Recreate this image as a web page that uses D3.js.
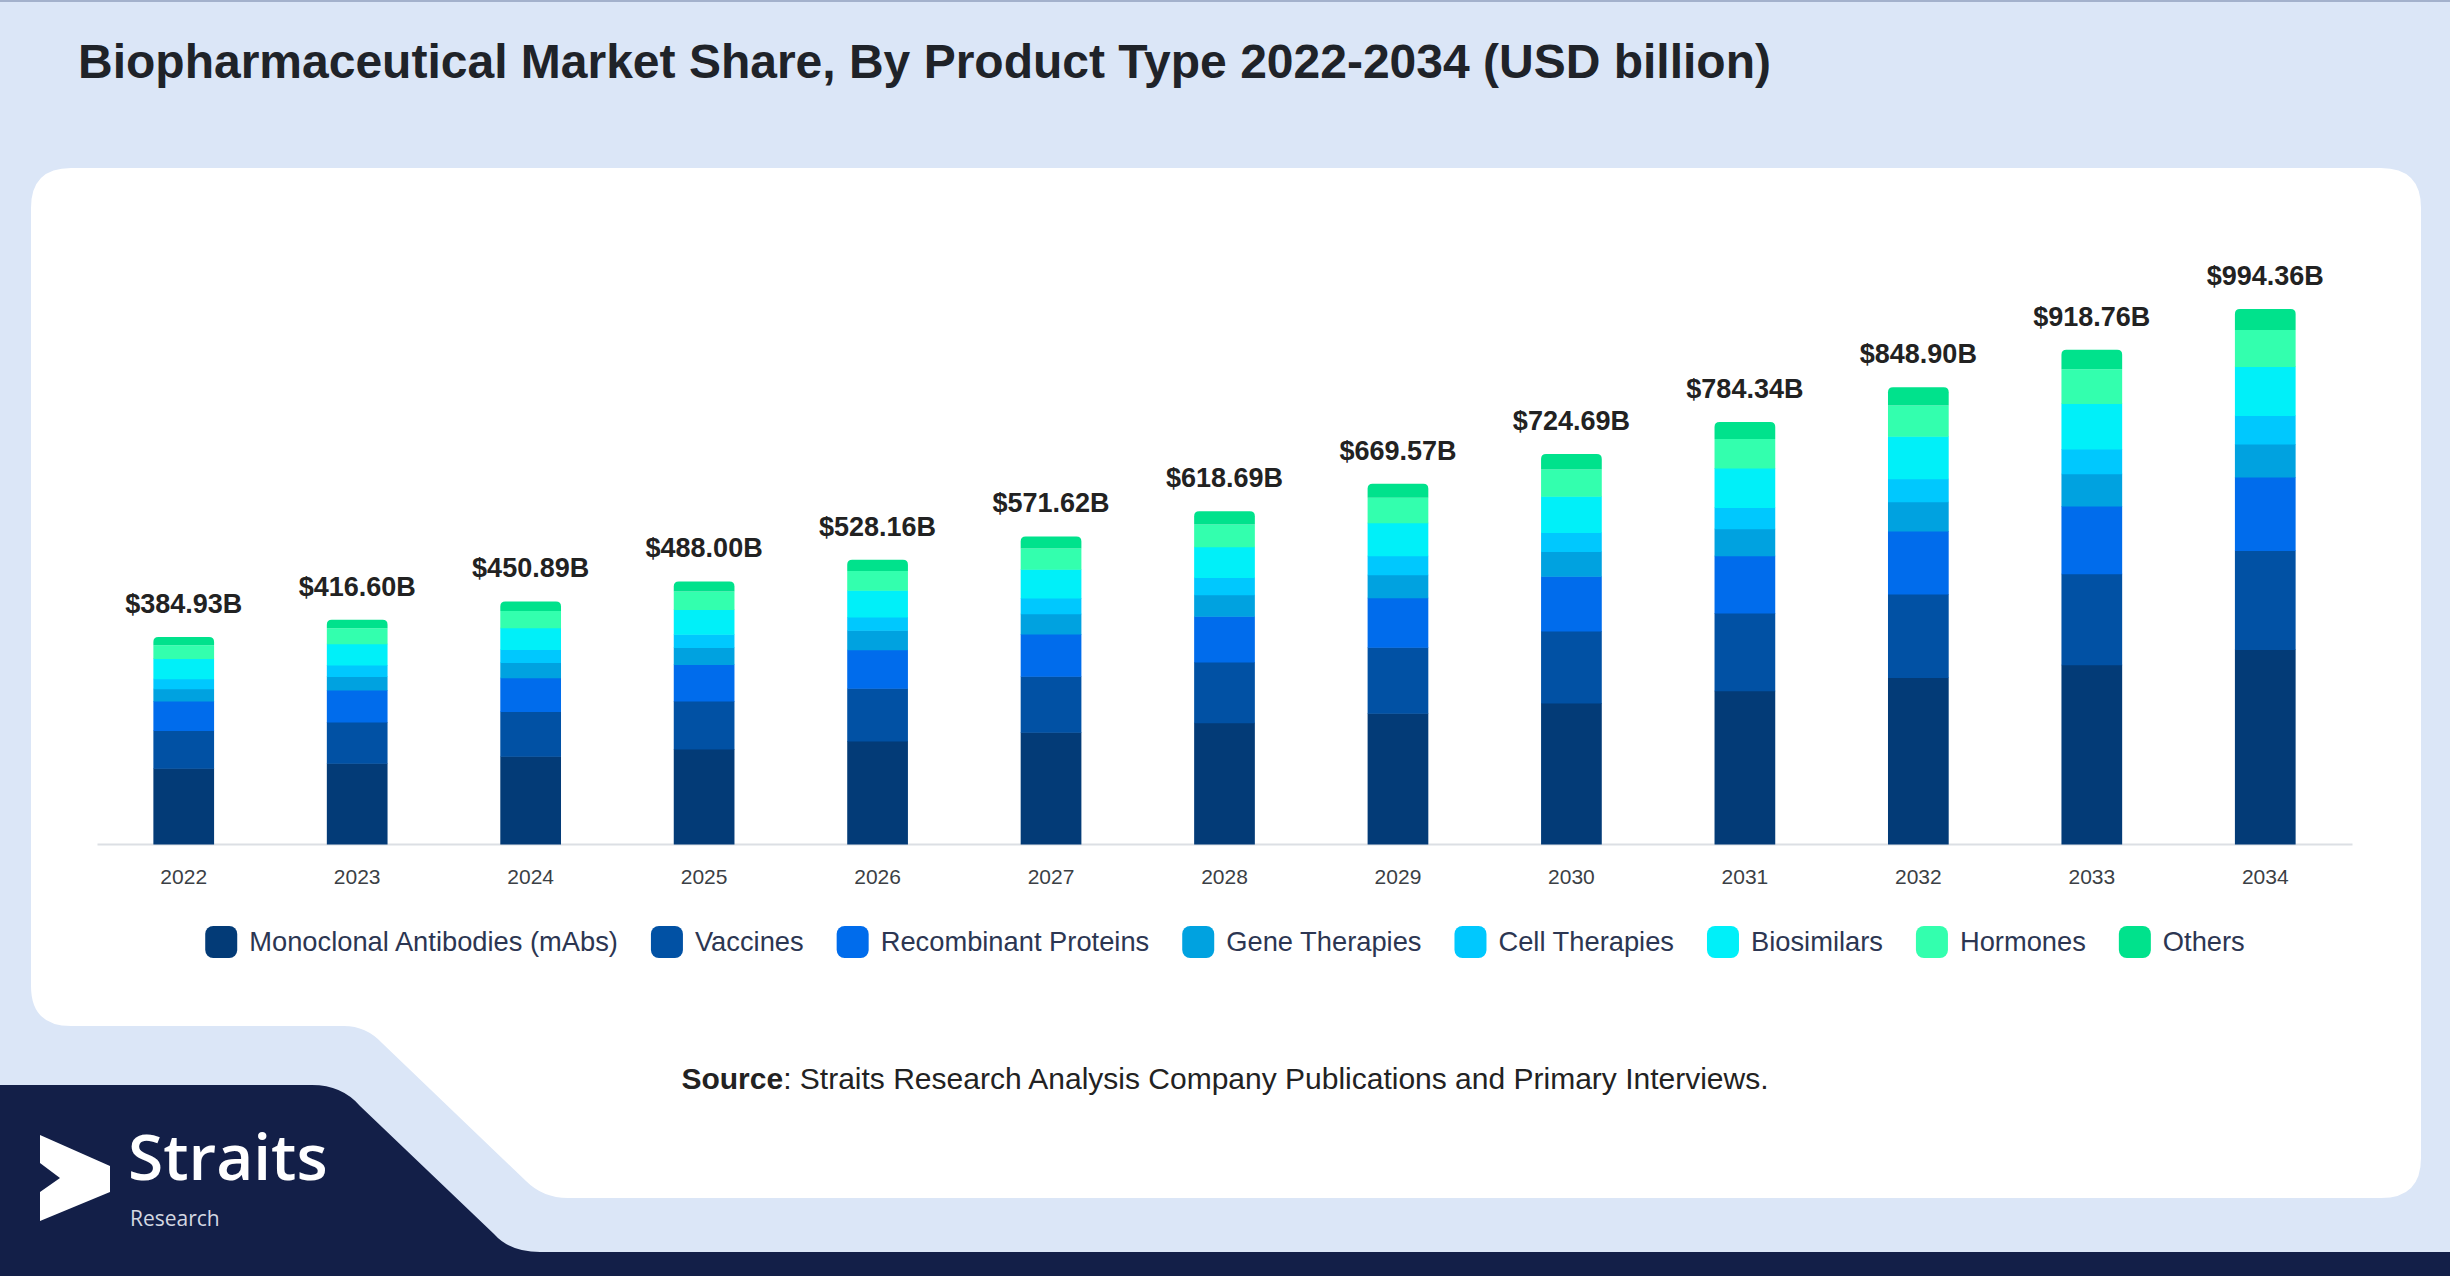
<!DOCTYPE html>
<html>
<head>
<meta charset="utf-8">
<script src="https://cdn.jsdelivr.net/npm/d3@7"></script>
<style>
  body { margin: 0; background: #dbe6f7; }
  svg { display: block; }
</style>
</head>
<body>
<div id="chart"></div>
<script>
var w = 2450;
var h = 1276;

var years = ["2022", "2023", "2024", "2025", "2026", "2027", "2028", "2029", "2030", "2031", "2032", "2033", "2034"];
var totals = [384.93, 416.6, 450.89, 488.0, 528.16, 571.62, 618.69, 669.57, 724.69, 784.34, 848.9, 918.76, 994.36];
var seriesNames = ["Monoclonal Antibodies (mAbs)", "Vaccines", "Recombinant Proteins", "Gene Therapies", "Cell Therapies", "Biosimilars", "Hormones", "Others"];
var seriesColors = ["#033b77", "#0151a4", "#006cec", "#00a2e0", "#00c8fe", "#00f0f9", "#33ffae", "#00e28c"];

var mabs = [140.93, 150.0, 163.19, 176.7, 191.46, 207.82, 225.29, 242.97, 261.89, 284.84, 309.3, 333.16, 361.46];
var vaccines = [70.2, 76.9, 83.1, 89.3, 97.9, 104.2, 112.9, 122.8, 134.0, 144.3, 155.3, 169.0, 183.9];
var recombinant = [54.6, 59.5, 62.6, 67.6, 71.9, 78.1, 85.0, 91.8, 101.8, 106.7, 117.0, 126.3, 136.9];
var geneTherapies = [23.0, 24.8, 28.5, 31.6, 36.0, 37.8, 40.3, 42.8, 45.9, 50.2, 54.7, 59.7, 61.3];
var cellTherapies = [18.6, 21.7, 24.2, 24.8, 24.8, 29.1, 31.7, 35.3, 35.4, 39.5, 42.8, 45.9, 52.7];
var biosimilars = [37.3, 39.1, 40.3, 45.9, 49.6, 53.9, 57.1, 61.4, 67.6, 73.4, 78.6, 84.8, 91.2];
var hormones = [24.8, 29.1, 31.0, 33.5, 36.0, 38.4, 41.6, 46.5, 49.6, 54.0, 57.2, 63.5, 67.7];
var others = [15.5, 15.5, 18.0, 18.6, 20.5, 22.3, 24.8, 26.0, 28.5, 31.4, 34.0, 36.4, 39.2];

var seriesValues = [mabs, vaccines, recombinant, geneTherapies, cellTherapies, biosimilars, hormones, others];

// table for d3.stack
var table = years.map(function (y, i) {
  var row = { year: y };
  seriesNames.forEach(function (s, j) {
    row[s] = seriesValues[j][i];
  });
  return row;
});

var stacked = d3.stack().keys(seriesNames)(table);

var font = "'Liberation Sans', Arial, sans-serif";

var svg = d3.select("#chart").append("svg").attr("width", w).attr("height", h);

// background
svg.append("rect").attr("width", w).attr("height", h).attr("fill", "#dbe6f7");
svg.append("rect").attr("width", w).attr("height", 2).attr("fill", "#a3b1cc");

// white card with the cut corner bottom left
svg
  .append("path")
  .attr(
    "d",
    "M71,168 H2381 Q2421,168 2421,208 V1158 Q2421,1198 2381,1198 H568 Q543,1198 526,1181 L382,1043 Q366,1026 344,1026 H71 Q31,1026 31,986 V208 Q31,168 71,168 Z"
  )
  .attr("fill", "#ffffff");

// navy band bottom left
svg
  .append("path")
  .attr("d", "M0,1085 H312 Q342,1085 360,1106 L494,1234 Q510,1252 540,1252 H2450 V1276 H0 Z")
  .attr("fill", "#131f48");

// title
svg
  .append("text")
  .attr("x", 78)
  .attr("y", 78)
  .attr("font-family", font)
  .attr("font-weight", "bold")
  .attr("font-size", "48px")
  .attr("fill", "#1f2329")
  .text("Biopharmaceutical Market Share, By Product Type 2022-2034 (USD billion)");

var xScale = d3.scaleBand().domain(years).range([97, 2352]).paddingInner(0.65).paddingOuter(0.325);

var yScale = d3.scaleLinear().domain([0, 1000]).range([844, 306]);

// x axis
var xAxis = d3.axisBottom(xScale).tickSize(0).tickPadding(25);
var gx = svg.append("g").attr("transform", "translate(0,844)").call(xAxis);
gx.select(".domain").attr("stroke", "#dcdfe4").attr("stroke-width", 2);
gx.selectAll("text").attr("font-family", font).attr("font-size", "21px").attr("fill", "#3b3f45");

function topRounded(x, y, bw, bh, r) {
  r = Math.min(r, bh);
  return (
    "M" + x + "," + (y + bh) +
    " V" + (y + r) +
    " Q" + x + "," + y + " " + (x + r) + "," + y +
    " H" + (x + bw - r) +
    " Q" + (x + bw) + "," + y + " " + (x + bw) + "," + (y + r) +
    " V" + (y + bh) + " Z"
  );
}

var layers = svg
  .selectAll("g.layer")
  .data(stacked)
  .enter()
  .append("g")
  .attr("class", "layer")
  .attr("fill", function (d, i) {
    return seriesColors[i];
  });

layers
  .selectAll("path")
  .data(function (d) {
    return d.map(function (p) {
      return { p: p, last: d.index === seriesNames.length - 1 };
    });
  })
  .enter()
  .append("path")
  .attr("d", function (d) {
    var x = xScale(d.p.data.year);
    var y0 = yScale(d.p[0]);
    var y1 = yScale(d.p[1]);
    return topRounded(x, y1, xScale.bandwidth(), y0 - y1 + (d.last ? 0 : 0.5), d.last ? 5 : 0);
  });

// total labels
svg
  .selectAll("text.total")
  .data(years)
  .enter()
  .append("text")
  .attr("class", "total")
  .attr("x", function (d) {
    return xScale(d) + xScale.bandwidth() / 2;
  })
  .attr("y", function (d, i) {
    return yScale(d3.sum(seriesValues, function (s) { return s[i]; })) - 24;
  })
  .attr("text-anchor", "middle")
  .attr("font-family", font)
  .attr("font-weight", "bold")
  .attr("font-size", "27px")
  .attr("fill", "#222")
  .text(function (d, i) {
    return "$" + totals[i].toFixed(2) + "B";
  });

// legend
var legend = svg.append("g").attr("transform", "translate(0,942)");
var items = legend
  .selectAll("g")
  .data(seriesNames)
  .enter()
  .append("g");

items
  .append("rect")
  .attr("width", 32)
  .attr("height", 32)
  .attr("y", -16)
  .attr("rx", 8)
  .attr("fill", function (d, i) {
    return seriesColors[i];
  });

items
  .append("text")
  .attr("x", 44)
  .attr("y", 9)
  .attr("font-family", font)
  .attr("font-size", "27.3px")
  .attr("fill", "#2c3652")
  .text(function (d) {
    return d;
  });

var pos = 0;
var offsets = [];
items.each(function () {
  var tw = d3.select(this).select("text").node().getComputedTextLength();
  offsets.push(pos);
  pos += 44 + tw + 33;
});
var legendWidth = pos - 33;
var legendStart = (w - legendWidth) / 2;
items.attr("transform", function (d, i) {
  return "translate(" + (legendStart + offsets[i]) + ",0)";
});

// source
var src = svg
  .append("text")
  .attr("x", w / 2)
  .attr("y", 1089)
  .attr("text-anchor", "middle")
  .attr("font-family", font)
  .attr("font-size", "30px")
  .attr("fill", "#222");
src.append("tspan").attr("font-weight", "bold").text("Source");
src.append("tspan").text(": Straits Research Analysis Company Publications and Primary Interviews.");

// logo
var logo = svg.append("g");
logo
  .append("path")
  .attr("d", "M40,1135 L110,1166 L110,1192 L40,1221 L40,1192 L60,1178 L40,1163 Z")
  .attr("fill", "#ffffff");
logo
  .append("text")
  .attr("x", 128)
  .attr("y", 1180)
  .attr("font-family", "'Open Sans', sans-serif")
  .attr("font-weight", 600)
  .attr("font-size", "64px")
  .attr("fill", "#ffffff")
  .text("Straits");
logo
  .append("text")
  .attr("x", 130)
  .attr("y", 1226)
  .attr("font-family", "'Open Sans', sans-serif")
  .attr("font-size", "21px")
  .attr("fill", "#d4d8e2")
  .text("Research");
</script>
</body>
</html>
